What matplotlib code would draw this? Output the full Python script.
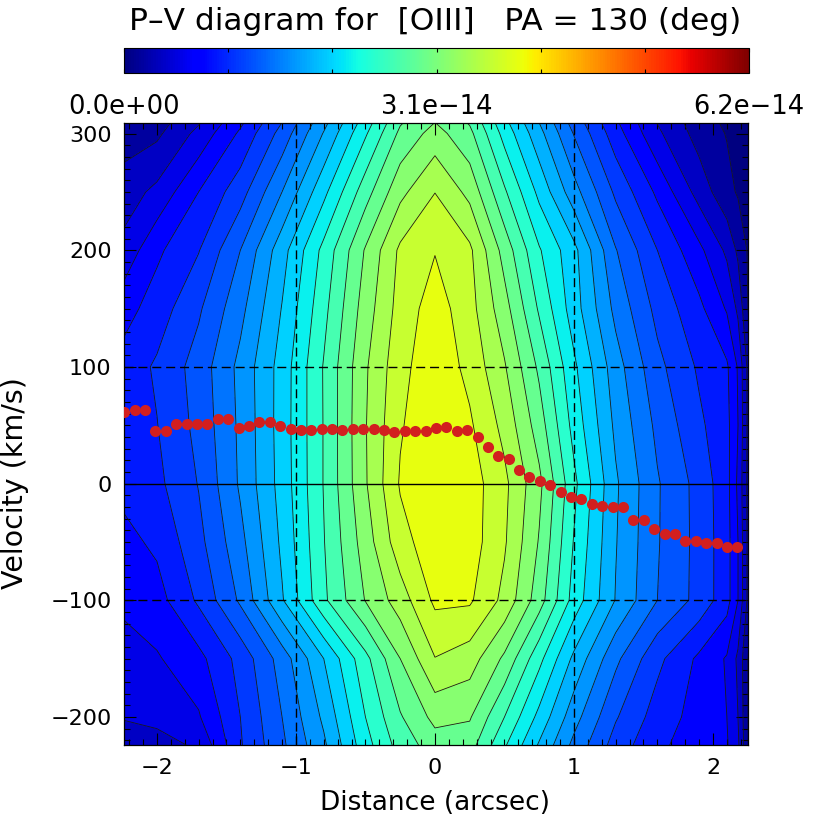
#!/usr/bin/env python3
"""P-V diagram of [OIII] along PA = 130 deg, with the fitted velocity centroids."""

import matplotlib
matplotlib.use("Agg")
import matplotlib.pyplot as plt
import numpy as np
from matplotlib.cm import ScalarMappable
from matplotlib.colors import Normalize
from matplotlib.ticker import MultipleLocator

# map nodes: slit position (arcsec) and velocity rows (km/s)
grid_dist = [-2.24, -2.0, -1.7, -1.4, -1.1, -0.8, -0.5, -0.25, 0.0, 0.25,
             0.5, 0.75, 1.0, 1.3, 1.6, 1.9, 2.1, 2.18, 2.26]
grid_vel = [312, 300, 250, 200, 150, 100, 50, 0, -50, -100, -150, -200, -225]

# [OIII] flux, in contour steps (1 step = 6.2e-14 / 30)
flux_steps = [
    [1.2, 1.5, 2.8, 4.7, 6.9, 9.6, 12.4, 14.8, 15.9, 14.8, 12.2, 9.9, 7.5, 5.1, 2.9, 1.4, 0.8, 0.5, 0.2],
    [1.5, 1.8, 3.3, 5.18, 7.38, 10.07, 12.87, 15.23, 16.4, 15.27, 12.64, 10.33, 7.94, 5.45, 3.2, 1.6, 0.95, 0.6, 0.3],
    [2.5, 3.25, 5.0, 6.58, 9.0, 11.73, 14.57, 16.72, 17.98, 16.7, 14.15, 11.73, 9.4, 6.8, 4.8, 2.6, 1.3, 0.9, 0.5],
    [3.3, 4.8, 5.95, 8.0, 10.6, 13.3, 16.1, 18.2, 18.95, 18.2, 15.6, 13.1, 11.3, 8.06, 6.0, 4.25, 2.8, 1.8, 0.8],
    [4.6, 5.47, 6.85, 8.7, 11.05, 13.7, 16.5, 18.4, 19.5, 18.38, 16.4, 13.86, 11.47, 8.72, 6.7, 5.25, 3.9, 2.8, 0.8],
    [5.4, 6.15, 7.43, 9.28, 11.42, 14.07, 16.87, 18.68, 19.7, 18.71, 17.1, 14.8, 12.2, 9.44, 7.29, 5.85, 5.15, 3.9, 1.5],
    [5.35, 5.97, 7.3, 9.2, 11.45, 14.05, 16.94, 18.9, 19.8, 19.15, 17.7, 15.5, 12.64, 9.78, 7.76, 6.2, 5.3, 4.0, 1.5],
    [5.3, 5.75, 7.05, 9.15, 11.4, 14.05, 16.9, 19.1, 19.7, 19.5, 18.24, 16.25, 13.25, 10.15, 8.1, 6.65, 5.35, 3.8, 1.5],
    [4.7, 5.2, 6.7, 8.7, 11.2, 13.95, 16.5, 18.6, 19.65, 19.5, 18.12, 15.92, 12.93, 10.06, 8.08, 6.68, 5.4, 4.0, 1.5],
    [4.2, 4.6, 6.17, 8.17, 10.9, 13.8, 16.05, 17.5, 19.2, 19.15, 17.72, 15.46, 12.6, 9.95, 8.0, 6.67, 5.4, 4.0, 1.5],
    [3.6, 3.9, 4.7, 6.35, 8.45, 11.0, 13.7, 16.0, 17.97, 17.5, 15.8, 13.3, 10.76, 8.24, 6.26, 4.8, 3.9, 2.8, 0.8],
    [3.05, 3.2, 3.9, 6.0, 8.0, 10.2, 13.0, 14.9, 16.3, 16.1, 14.0, 11.7, 9.4, 7.1, 5.55, 4.6, 4.0, 3.0, 0.8],
    [2.6, 2.7, 3.1, 5.9, 7.8, 9.8, 12.6, 14.4, 15.5, 15.4, 13.1, 10.85, 8.7, 6.55, 5.2, 4.5, 4.1, 3.2, 0.8],
]

# velocity centroid per spaxel (km/s), left to right along the slit
centroid_vel = [
    61.0, 62.7, 62.7, 45.2, 45.2, 50.7, 50.7, 51.2, 51.2, 55.0,
    55.0, 47.8, 49.0, 52.4, 53.0, 49.5, 47.0, 45.6, 45.8, 46.7,
    46.4, 45.6, 46.4, 47.0, 46.7, 45.8, 44.4, 45.2, 45.0, 45.2,
    47.6, 48.6, 45.0, 45.8, 39.8, 31.0, 23.8, 21.0, 11.6, 5.6,
    2.4, -1.3, -7.5, -11.3, -13.5, -17.3, -19.0, -20.1, -20.4, -31.3,
    -31.3, -39.0, -43.3, -43.3, -49.3, -49.3, -50.7, -50.7, -54.4, -54.4,
]
# spaxel centres along the slit (arcsec)
centroid_dist = np.linspace(-2.235, 2.175, len(centroid_vel))

flux_max = 6.2e-14
n_steps = 30
cbar_labels = ["0.0e+00", "3.1e\u221214", "6.2e\u221214"]
title = "P\u2013V diagram for  [OIII]   PA = 130 (deg)"

step = flux_max / n_steps
flux = np.array(flux_steps) * step
levels = np.arange(21) * step
# the IDL colour table is not quite jet: stretch it so the bands match
band_frac = np.interp(np.arange(len(levels) - 1), [0, 12, 19], [0.0, 0.36, 0.63])
band_colors = plt.cm.jet(band_frac)

plt.rcParams.update({"font.family": "DejaVu Sans"})
W = H = 830
fig = plt.figure(figsize=(W / 100, H / 100), dpi=100)

# main panel: x 124..748 px, y 123..745 px
ax = fig.add_axes([124 / W, 1 - 745 / H, 624 / W, 622 / H])
X, V = np.meshgrid(grid_dist, grid_vel)
ax.contourf(X, V, flux, levels=levels, colors=band_colors, zorder=1)
ax.contour(X, V, flux, levels=levels[1:], colors="#1a1a1a", linewidths=0.6, zorder=2)

dash = (0, (6.5, 3.5))
ax.axhline(0, color="k", lw=1.0, zorder=3)
for v in (-100, 100):
    ax.axhline(v, color="k", lw=1.0, ls=dash, zorder=3)
for d in (-1, 1):
    ax.axvline(d, color="k", lw=1.0, ls=dash, zorder=3)

ax.plot(centroid_dist, centroid_vel, "o", color="#d21f1f", ms=8, mec="none", zorder=4)

ax.set_xlim(-2.237, 2.252)
ax.set_ylim(-224, 309)
ax.xaxis.set_major_locator(MultipleLocator(1))
ax.xaxis.set_minor_locator(MultipleLocator(0.1))
ax.yaxis.set_major_locator(MultipleLocator(100))
ax.yaxis.set_minor_locator(MultipleLocator(10))
ax.tick_params(which="both", direction="in", top=True, right=True, width=0.8, labelsize=16)
ax.tick_params(which="major", length=8.5, pad=9)
ax.tick_params(which="minor", length=4.5)
for s in ax.spines.values():
    s.set_linewidth(0.9)

fig.text(435 / W, 1 - 803 / H, "Distance (arcsec)", ha="center", va="center", fontsize=19)
fig.text(15 / W, 1 - 483 / H, "Velocity (km/s)", ha="center", va="center", rotation=90, fontsize=20.5)
fig.text(435 / W, 1 - 21 / H, title, ha="center", va="center", fontsize=22.5)

# colour bar strip above the panel
cax = fig.add_axes([124 / W, 1 - 73 / H, 625 / W, 25 / H])
sm = ScalarMappable(norm=Normalize(0, flux_max), cmap="jet")
cb = fig.colorbar(sm, cax=cax, orientation="horizontal")
cb.outline.set_linewidth(0.8)
cax.set_xticks([0, flux_max / 2, flux_max], cbar_labels)
cax.set_xticks(np.linspace(0, flux_max, 7), minor=True)
cax.tick_params(which="both", direction="in", top=True, bottom=True, length=3, width=0.8,
                labelsize=18.5, pad=15)

fig.savefig("out.png", dpi=100)
